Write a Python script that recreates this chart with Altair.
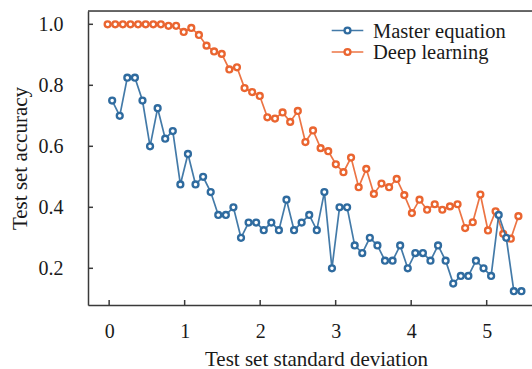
import altair as alt
import numpy as np
import pandas as pd

# ---- data ----
sigma_master = np.linspace(0.04, 5.46, 55)
sigma_deep = np.linspace(-0.02, 5.42, 55)

master_acc = [0.75, 0.70, 0.825, 0.825, 0.75, 0.60, 0.725, 0.625, 0.65, 0.475,
              0.575, 0.475, 0.50, 0.45, 0.375, 0.375, 0.40, 0.30, 0.35, 0.35,
              0.325, 0.35, 0.325, 0.425, 0.325, 0.35, 0.375, 0.325, 0.45, 0.20,
              0.40, 0.40, 0.275, 0.25, 0.30, 0.275, 0.225, 0.225, 0.275, 0.20,
              0.25, 0.25, 0.225, 0.275, 0.225, 0.15, 0.175, 0.175, 0.225, 0.20,
              0.175, 0.375, 0.30, 0.125, 0.125]

deep_acc = [1.0, 1.0, 1.0, 1.0, 1.0, 1.0, 1.0, 1.0, 0.995, 0.995,
            0.975, 0.988, 0.965, 0.93, 0.911, 0.903, 0.852, 0.859, 0.791, 0.778,
            0.765, 0.695, 0.691, 0.711, 0.680, 0.716, 0.614, 0.652, 0.594, 0.584,
            0.541, 0.515, 0.563, 0.466, 0.526, 0.444, 0.478, 0.466, 0.493, 0.440,
            0.381, 0.425, 0.392, 0.410, 0.392, 0.403, 0.410, 0.332, 0.351, 0.442,
            0.324, 0.387, 0.313, 0.297, 0.371]

series_names = ["Master equation", "Deep learning"]
series_colors = ["#2f6b9f", "#ea6530"]
x_ticks = [0, 1, 2, 3, 4, 5]
y_ticks = [0.2, 0.4, 0.6, 0.8, 1.0]

df = pd.DataFrame({
    "sigma": list(sigma_master) + list(sigma_deep),
    "acc": master_acc + deep_acc,
    "series": [series_names[0]] * len(master_acc) + [series_names[1]] * len(deep_acc),
})

W, H = 444, 294
FONT = "Liberation Serif"
TXT = "#1a1a1a"
AX = "#3a3a3a"

xscale = alt.Scale(domain=[-0.28, 5.60], nice=False, zero=False)
yscale = alt.Scale(domain=[0.0797, 1.0436], nice=False, zero=False)
cscale = alt.Scale(domain=series_names, range=series_colors)

x_enc = alt.X("sigma:Q", scale=xscale, axis=alt.Axis(
    title="Test set standard deviation", values=x_ticks, format="d",
    grid=False, ticks=True, tickSize=0, domainColor=AX, domainWidth=1.5,
    labelFont=FONT, labelFontSize=20, labelColor=TXT, labelPadding=32,
    labelBaseline="alphabetic",
    titleFont=FONT, titleFontSize=21, titleFontWeight="normal", titleColor=TXT,
    titleX=228, titleY=60, titleBaseline="alphabetic", titleAlign="center"))
y_enc = alt.Y("acc:Q", scale=yscale, axis=alt.Axis(
    title="Test set accuracy", values=y_ticks, format=".1f",
    grid=False, ticks=True, tickSize=0, domainColor=AX, domainWidth=1.5,
    labelFont=FONT, labelFontSize=20, labelColor=TXT, labelPadding=25,
    titleFont=FONT, titleFontSize=21, titleFontWeight="normal", titleColor=TXT,
    titleX=-62, titleY=147, titleAngle=-90, titleBaseline="alphabetic",
    titleAlign="center"))

base = alt.Chart(df)


def series_layers(name):
    d = base.transform_filter(alt.datum.series == name)
    line = d.mark_line(strokeWidth=1.7, opacity=0.9, clip=True).encode(
        x=x_enc, y=y_enc, color=alt.Color("series:N", scale=cscale, legend=None))
    pts = d.mark_point(shape="circle", size=34, strokeWidth=2.4, fill="white",
                       fillOpacity=1, opacity=1, clip=True).encode(
        x=x_enc, y=y_enc, stroke=alt.Stroke("series:N", scale=cscale, legend=None))
    return [line, pts]


tick_df = pd.DataFrame({"t": x_ticks})
ytick_df = pd.DataFrame({"t": y_ticks})
xticks = alt.Chart(tick_df).mark_rule(color=AX, strokeWidth=1.5).encode(
    x=alt.X("t:Q", scale=xscale), y=alt.value(H), y2=alt.value(H - 5))
yticks = alt.Chart(ytick_df).mark_rule(color=AX, strokeWidth=1.5).encode(
    y=alt.Y("t:Q", scale=yscale), x=alt.value(0), x2=alt.value(5))
top_border = alt.Chart(tick_df.head(1)).mark_rule(color=AX, strokeWidth=1.5).encode(
    x=alt.value(0), x2=alt.value(W), y=alt.value(0))

legend_layers = []
leg_df = pd.DataFrame({"label": series_names})
for i, (name, col) in enumerate(zip(series_names, series_colors)):
    yy = 19.5 + i * 21.5
    ld = alt.Chart(leg_df).transform_filter(alt.datum.label == name)
    legend_layers.append(ld.mark_rule(color=col, strokeWidth=1.7, opacity=0.9).encode(
        x=alt.value(243.7), x2=alt.value(275.3), y=alt.value(yy)))
    legend_layers.append(ld.mark_point(shape="circle", size=34, strokeWidth=2.4,
                                       fill="white", fillOpacity=1, opacity=1,
                                       color=col).encode(
        x=alt.value(259.5), y=alt.value(yy)))
    legend_layers.append(ld.mark_text(font=FONT, fontSize=20.5, color=TXT, align="left",
                                      baseline="middle").encode(
        text="label:N", x=alt.value(285), y=alt.value(yy + 1)))

layers = series_layers(series_names[1]) + series_layers(series_names[0])
chart = alt.layer(xticks, yticks, top_border, *layers, *legend_layers).properties(
    width=W, height=H,
    autosize=alt.AutoSizeParams(type="none"),
    padding={"left": 88, "top": 11, "right": 0, "bottom": 64},
).configure_view(stroke=None).configure(background="white")

chart.save("out.html", embed_options={"renderer": "svg", "actions": False})
